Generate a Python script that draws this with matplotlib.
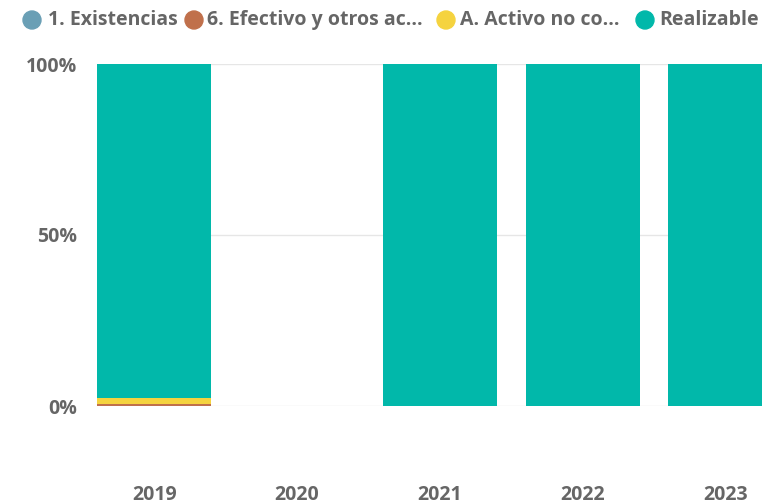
import matplotlib
matplotlib.use("Agg")
import matplotlib.pyplot as plt
import numpy as np

years = ["2019", "2020", "2021", "2022", "2023"]
series_names = ["1. Existencias", "6. Efectivo y otros ac...", "A. Activo no co...", "Realizable"]
existencias = [0.0, 0.0, 0.0, 0.0, 0.0]
efectivo = [0.5, 0.0, 0.0, 0.0, 0.0]
activo_no_co = [1.7, 0.0, 0.0, 0.0, 0.0]
realizable = [97.8, 0.0, 100.0, 100.0, 100.0]
colors = ["#6A9FB5", "#C0704B", "#F5D33F", "#01B8AA"]
ytick_vals = [0, 50, 100]
ytick_labels = ["0%", "50%", "100%"]

W, H = 762, 504
fig = plt.figure(figsize=(W / 100, H / 100), dpi=100)
ax = fig.add_axes([97 / W, (H - 406) / H, 1 - 97 / W, (406 - 64) / H])

x = np.arange(len(years))
bottom = np.zeros(len(years))
for vals, c in zip([existencias, efectivo, activo_no_co, realizable], colors):
    v = np.array(vals)
    ax.bar(x, v, 0.8, bottom=bottom, color=c, zorder=3, linewidth=0)
    bottom += v

ax.set_xlim(-0.4, (762 - 153.5) / 143)
ax.set_ylim(0, 100)
ax.set_yticks(ytick_vals)
ax.set_yticklabels(ytick_labels)
ax.set_xticks(x)
ax.set_xticklabels(years)
for s in ax.spines.values():
    s.set_visible(False)
ax.grid(axis="y", color="#E6E6E6", linewidth=1, zorder=0)
ax.tick_params(axis="both", length=0, labelcolor="#666666", labelsize=14)
ax.tick_params(axis="x", pad=57)
ax.tick_params(axis="y", pad=14)
for lbl in ax.get_xticklabels() + ax.get_yticklabels():
    lbl.set_fontweight("bold")
    lbl.set_fontfamily("Open Sans")

# legend
circle_x = [32, 194, 446, 645]
text_x = [48, 207, 460, 659]
ly = 20
for cx, tx, name, c in zip(circle_x, text_x, series_names, colors):
    fig.patches.append(matplotlib.patches.Ellipse((cx / W, 1 - ly / H), 18 / W, 18 / H,
                                                  transform=fig.transFigure, color=c, figure=fig))
    fig.text(tx / W, 1 - ly / H, name, ha="left", va="center", fontsize=14,
             fontweight="bold", color="#666666", family="Open Sans")

fig.savefig("out.png", dpi=100)
